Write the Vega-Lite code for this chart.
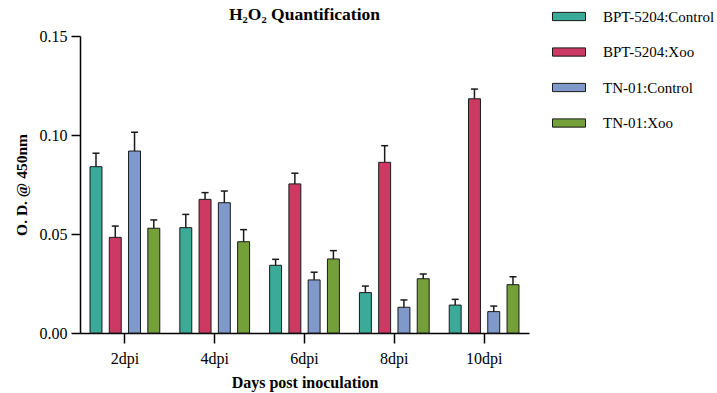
{
  "$schema": "https://vega.github.io/schema/vega-lite/v6.json",
  "width": 449,
  "height": 297,
  "autosize": {"type": "none"},
  "padding": {"left": 80, "top": 36, "right": 188, "bottom": 60},
  "background": "white",
  "config": {"font": "Liberation Serif", "view": {"stroke": null}},
  "title": {"text": "H₂O₂ Quantification", "fontSize": 17.5, "fontWeight": "bold", "font": "Liberation Serif", "anchor": "middle", "frame": "group", "offset": -24, "color": "#000"},
  "data": {"values": [
    {"day": "2dpi", "group": "BPT-5204:Control", "value": 0.084, "hi": 0.0908},
    {"day": "2dpi", "group": "BPT-5204:Xoo", "value": 0.0483, "hi": 0.054},
    {"day": "2dpi", "group": "TN-01:Control", "value": 0.0919, "hi": 0.1014},
    {"day": "2dpi", "group": "TN-01:Xoo", "value": 0.0529, "hi": 0.0571},
    {"day": "4dpi", "group": "BPT-5204:Control", "value": 0.0532, "hi": 0.0599},
    {"day": "4dpi", "group": "BPT-5204:Xoo", "value": 0.0675, "hi": 0.0709},
    {"day": "4dpi", "group": "TN-01:Control", "value": 0.0658, "hi": 0.0717},
    {"day": "4dpi", "group": "TN-01:Xoo", "value": 0.0461, "hi": 0.0522},
    {"day": "6dpi", "group": "BPT-5204:Control", "value": 0.0342, "hi": 0.0372},
    {"day": "6dpi", "group": "BPT-5204:Xoo", "value": 0.0753, "hi": 0.0807},
    {"day": "6dpi", "group": "TN-01:Control", "value": 0.0268, "hi": 0.0307},
    {"day": "6dpi", "group": "TN-01:Xoo", "value": 0.0374, "hi": 0.0416},
    {"day": "8dpi", "group": "BPT-5204:Control", "value": 0.0204, "hi": 0.0237},
    {"day": "8dpi", "group": "BPT-5204:Xoo", "value": 0.0862, "hi": 0.0946},
    {"day": "8dpi", "group": "TN-01:Control", "value": 0.013, "hi": 0.0167},
    {"day": "8dpi", "group": "TN-01:Xoo", "value": 0.0274, "hi": 0.0298},
    {"day": "10dpi", "group": "BPT-5204:Control", "value": 0.0141, "hi": 0.017},
    {"day": "10dpi", "group": "BPT-5204:Xoo", "value": 0.1183, "hi": 0.1232},
    {"day": "10dpi", "group": "TN-01:Control", "value": 0.0108, "hi": 0.0136},
    {"day": "10dpi", "group": "TN-01:Xoo", "value": 0.0244, "hi": 0.0284}
  ]},
  "encoding": {
    "x": {
      "field": "day", "type": "nominal",
      "sort": ["2dpi", "4dpi", "6dpi", "8dpi", "10dpi"],
      "scale": {"paddingInner": 0, "paddingOuter": 0},
      "title": "Days post inoculation",
      "axis": {"labelAngle": 0, "domainColor": "#000", "domainWidth": 1.5, "tickColor": "#000", "tickWidth": 1.5, "tickSize": 10, "labelFontSize": 16, "labelColor": "#000", "labelPadding": 7, "titleFontSize": 16, "titleFontWeight": "bold", "titleColor": "#000", "titlePadding": 8}
    },
    "xOffset": {
      "field": "group", "type": "nominal",
      "sort": ["BPT-5204:Control", "BPT-5204:Xoo", "TN-01:Control", "TN-01:Xoo"],
      "scale": {"paddingInner": 0.38, "paddingOuter": 0.52}
    }
  },
  "layer": [
    {
      "mark": {"type": "bar", "stroke": "#1a1a1a", "strokeWidth": 1},
      "encoding": {
        "y": {
          "field": "value", "type": "quantitative",
          "scale": {"domain": [0, 0.15], "nice": false},
          "title": "O. D. @ 450nm",
          "axis": {"values": [0, 0.05, 0.1, 0.15], "format": ".2f", "grid": false, "domainColor": "#000", "domainWidth": 1.5, "tickColor": "#000", "tickWidth": 1.5, "tickSize": 9, "labelFontSize": 16, "labelColor": "#000", "labelPadding": 4, "titleFontSize": 15.5, "titleFontWeight": "bold", "titleColor": "#000", "titlePadding": 9.5}
        },
        "color": {
          "field": "group", "type": "nominal",
          "sort": ["BPT-5204:Control", "BPT-5204:Xoo", "TN-01:Control", "TN-01:Xoo"],
          "scale": {"domain": ["BPT-5204:Control", "BPT-5204:Xoo", "TN-01:Control", "TN-01:Xoo"], "range": ["#3aaa99", "#cc3a63", "#7f99cb", "#74a03a"]},
          "legend": {"orient": "none", "legendX": 472, "legendY": -36.5, "title": null, "padding": 0, "symbolType": "M-1,-0.25H1V0.25H-1Z", "symbolSize": 1089, "symbolStrokeColor": "#1a1a1a", "symbolStrokeWidth": 1, "symbolOpacity": 1, "labelFontSize": 15, "labelColor": "#000", "labelOffset": 17, "rowPadding": 10.5, "labelLimit": 300}
        }
      }
    },
    {
      "mark": {"type": "rule", "color": "#1a1a1a", "strokeWidth": 1.5},
      "encoding": {
        "y": {"field": "value", "type": "quantitative"},
        "y2": {"field": "hi"}
      }
    },
    {
      "mark": {"type": "tick", "color": "#1a1a1a", "thickness": 1.5, "size": 7, "opacity": 1},
      "encoding": {
        "y": {"field": "hi", "type": "quantitative"}
      }
    }
  ]
}
